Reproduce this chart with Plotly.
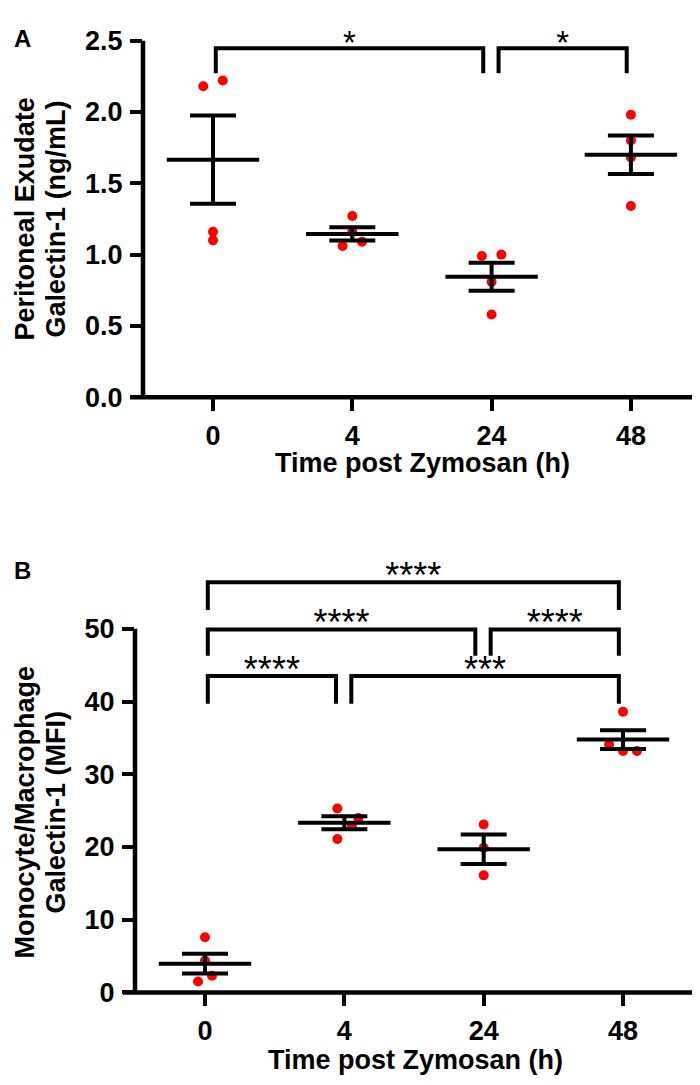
import numpy as np
import plotly.graph_objects as go

timepoints = ["0", "4", "24", "48"]

# Panel A: peritoneal exudate galectin-1 (ng/mL), one list per time point
exudate_0h = [2.18, 2.22, 1.16, 1.10]
exudate_4h = [1.27, 1.06, 1.09, 1.16]
exudate_24h = [0.99, 1.00, 0.81, 0.58]
exudate_48h = [1.98, 1.80, 1.68, 1.34]

# Panel B: monocyte/macrophage galectin-1 (MFI)
mfi_0h = [7.6, 1.5, 2.3, 4.4]
mfi_4h = [25.3, 21.1, 24.0, 22.9]
mfi_24h = [23.1, 19.9, 16.1]
mfi_48h = [38.6, 34.1, 33.2, 33.2]

# horizontal scatter of the dots inside a group (fraction of a category)
jitter_a = [[-0.07, 0.07, 0, 0], [0, -0.07, 0.07, 0], [-0.07, 0.07, 0, 0], [0, 0, 0, 0]]
jitter_b = [[0, -0.05, 0.05, 0], [-0.05, -0.05, 0.10, 0.055], [0, 0, 0], [0, -0.1, 0, 0.1]]

# significance brackets: (from group, to group, bar level, leg foot, label)
brackets_a = [(0, 2, 2.445, 2.27, "*"), (2, 3, 2.445, 2.27, "*")]
brackets_b = [
    (0, 3, 56.4, 52.6, "****"),
    (0, 2, 49.9, 46.3, "****"),
    (2, 3, 49.9, 46.3, "****"),
    (0, 1, 43.5, 39.7, "****"),
    (1, 3, 43.5, 39.7, "***"),
]

FONT = "Liberation Sans, Arial, sans-serif"
RED = "#ff0000"
LW = 4
W, H = 700, 1085

# plot-area geometry (pixels) and value ranges
A_TOP, A_BOT = 18, 385
B_TOP, B_BOT = 567, 997
A_YRANGE = [0, 2.5]
B_YRANGE = [0, 57.5]

groups_a = [exudate_0h, exudate_4h, exudate_24h, exudate_48h]
groups_b = [mfi_0h, mfi_4h, mfi_24h, mfi_48h]


def bracket_geometry(brackets):
    xs, ys, labels = [], [], []
    for (g0, g1, level, foot, lab) in brackets:
        shared_left = any(b[1] == g0 and b[2] == level for b in brackets)
        shared_right = any(b[0] == g1 and b[2] == level for b in brackets)
        xl = g0 + (0.05 if shared_left else 0.02)
        xr = g1 - (0.06 if shared_right else 0.03)
        xs += [xl, xl, xr, xr, None]
        ys += [foot, level, level, foot, None]
        labels.append(((xl + xr) / 2, level, lab))
    return xs, ys, labels


fig = go.Figure()


def add_panel(groups, jitter, brackets, xa, ya, yrange, plot_px, star_size, star_lift_px):
    px, py = [], []
    for i, (vals, jit) in enumerate(zip(groups, jitter)):
        px += [i + j for j in jit]
        py += list(vals)
    fig.add_trace(go.Scatter(x=px, y=py, mode="markers", xaxis=xa, yaxis=ya,
                             marker=dict(color=RED, size=10, line=dict(width=0)),
                             showlegend=False, hoverinfo="skip"))
    means = [float(np.mean(v)) for v in groups]
    sems = [float(np.std(v, ddof=1) / np.sqrt(len(v))) for v in groups]
    fig.add_trace(go.Scatter(x=list(range(len(groups))), y=means, mode="markers",
                             xaxis=xa, yaxis=ya,
                             marker=dict(symbol="line-ew", size=66, color="black",
                                         line=dict(color="black", width=LW)),
                             error_y=dict(type="data", array=sems, visible=True,
                                          width=23, thickness=LW, color="black"),
                             showlegend=False, hoverinfo="skip"))
    bx, by, labels = bracket_geometry(brackets)
    fig.add_trace(go.Scatter(x=bx, y=by, mode="lines", xaxis=xa, yaxis=ya,
                             line=dict(color="black", width=LW),
                             showlegend=False, hoverinfo="skip"))
    # asterisks just above each bracket bar (lifted a few pixels)
    lift = star_lift_px * (yrange[1] - yrange[0]) / plot_px
    fig.add_trace(go.Scatter(x=[c for c, _, _ in labels], y=[lev + lift for _, lev, _ in labels],
                             text=[lab for _, _, lab in labels], mode="text",
                             textposition="middle center", cliponaxis=False,
                             xaxis=xa, yaxis=ya,
                             textfont=dict(family=FONT, size=star_size, color="black"),
                             showlegend=False, hoverinfo="skip"))


add_panel(groups_a, jitter_a, brackets_a, "x", "y", A_YRANGE, A_BOT - A_TOP, 33, 3.0)
add_panel(groups_b, jitter_b, brackets_b, "x2", "y2", B_YRANGE, B_BOT - B_TOP, 36, 3.5)

tickfont = dict(family=FONT, size=27, color="black", weight="bold")
xcommon = dict(tickmode="array", tickvals=list(range(len(timepoints))), ticktext=timepoints,
               ticks="outside", ticklen=13, tickwidth=LW, tickcolor="black",
               showline=False, showgrid=False, zeroline=False, tickfont=tickfont,
               ticklabelstandoff=1, fixedrange=True)
ycommon = dict(ticks="outside", ticklen=12, tickwidth=LW, tickcolor="black",
               showline=False, showgrid=False, zeroline=False, tickfont=tickfont,
               ticklabelstandoff=2, fixedrange=True)

fig.update_layout(
    width=W, height=H,
    margin=dict(l=0, r=0, t=0, b=0),
    paper_bgcolor="white", plot_bgcolor="white",
    xaxis=dict(domain=[135 / W, 695 / W], range=[-0.5025, 3.5176], anchor="y", **xcommon),
    yaxis=dict(domain=[1 - A_BOT / H, 1 - A_TOP / H], range=A_YRANGE, anchor="x",
               tickvals=[0, 0.5, 1.0, 1.5, 2.0, 2.5], tickformat=".1f", **ycommon),
    xaxis2=dict(domain=[127 / W, 695 / W], range=[-0.5024, 3.574], anchor="y2", **xcommon),
    yaxis2=dict(domain=[1 - B_BOT / H, 1 - B_TOP / H], range=B_YRANGE, anchor="x2",
                tickvals=[0, 10, 20, 30, 40, 50], **ycommon),
)

# axis lines (GraphPad style: x-axis runs out past the y-axis, y-axis stops at top tick)
for xa, ya, ytop, xext in [("x", "y", 2.5, 13 / 560), ("x2", "y2", 50, 12 / 568)]:
    fig.add_shape(type="line", xref=xa + " domain", yref=ya, x0=0, x1=0, y0=0, y1=ytop,
                  line=dict(color="black", width=4.5))
    fig.add_shape(type="line", xref=xa + " domain", yref=ya + " domain", x0=-xext, x1=1,
                  y0=0, y1=0, line=dict(color="black", width=4.5))

titlefont = dict(family=FONT, size=27, color="black", weight="bold")
letterfont = dict(family=FONT, size=24, color="black", weight="bold")
# panel letters
fig.add_annotation(x=4 / W, y=1 - 16 / H, xref="paper", yref="paper", text="A", showarrow=False,
                   xanchor="left", yanchor="middle", font=letterfont)
fig.add_annotation(x=4 / W, y=1 - 563 / H, xref="paper", yref="paper", text="B", showarrow=False,
                   xanchor="left", yanchor="middle", font=letterfont)

# y titles (two rotated lines each)
for line1, line2, yc in [("Peritoneal Exudate", "Galectin-1 (ng/mL)", 202),
                         ("Monocyte/Macrophage", "Galectin-1 (MFI)", 812)]:
    fig.add_annotation(x=0, y=1 - yc / H, xref="paper", yref="paper", text=line1,
                       textangle=-90, showarrow=False, xanchor="left", yanchor="middle",
                       font=titlefont)
    fig.add_annotation(x=48 / W, y=1 - yc / H, xref="paper", yref="paper", text=line2,
                       textangle=-90, showarrow=False, xanchor="center", yanchor="middle",
                       font=titlefont)

# x titles
fig.add_annotation(x=414 / W, y=1 - 452 / H, xref="paper", yref="paper",
                   text="Time post Zymosan (h)", showarrow=False,
                   xanchor="center", yanchor="middle", font=titlefont)
fig.add_annotation(x=407 / W, y=1 - 1067 / H, xref="paper", yref="paper",
                   text="Time post Zymosan (h)", showarrow=False,
                   xanchor="center", yanchor="middle", font=titlefont)

fig.write_html("out.html")
